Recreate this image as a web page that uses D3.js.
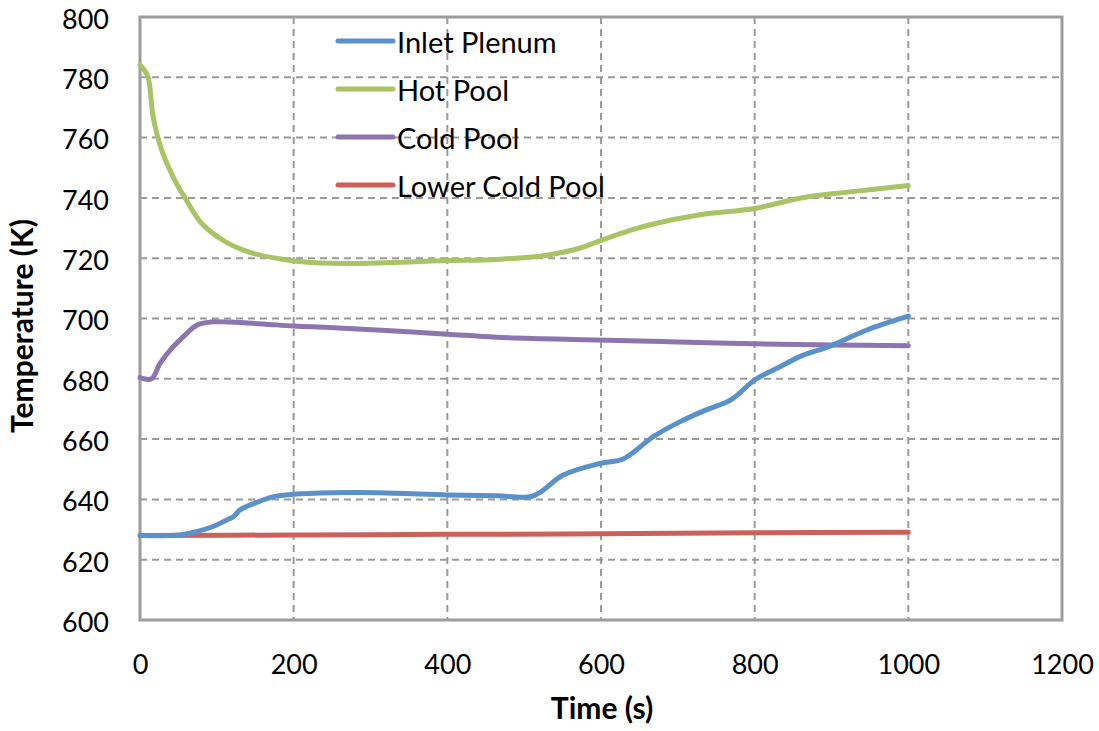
<!DOCTYPE html>
<html>
<head>
<meta charset="utf-8">
<script src="https://cdn.jsdelivr.net/npm/d3@7"></script>
<style>
  html, body { margin: 0; padding: 0; background: #fff; }
  svg { display: block; font-family: Lato, "Open Sans", sans-serif; }
  .tick-label { font-size: 27px; fill: #000; }
  .axis-title { font-size: 30px; font-weight: bold; fill: #000; }
  .legend-label { font-size: 29px; fill: #000; }
  .grid line { stroke: #9a9a9a; stroke-width: 2; stroke-dasharray: 7 5; }
</style>
</head>
<body>
<div id="chart"></div>
<script>
const xTicks = [0, 200, 400, 600, 800, 1000, 1200];
const yTicks = [600, 620, 640, 660, 680, 700, 720, 740, 760, 780, 800];

const seriesNames = ['Inlet Plenum', 'Hot Pool', 'Cold Pool', 'Lower Cold Pool'];

const inletTime = [0, 52, 74, 95, 113, 122, 130, 152, 174, 200, 250, 311, 400, 464, 512, 551, 600, 629, 668, 703, 737, 770, 800, 833, 861, 898, 946, 1000];
const inletTemp = [628, 628.2, 629.3, 631, 633.2, 634.3, 636.5, 639, 640.9, 641.7, 642.2, 642.2, 641.5, 641.2, 641.2, 648.1, 652, 653.4, 660.8, 665.8, 669.7, 673.2, 679.6, 684, 687.6, 690.8, 696.2, 700.8];

const hotTime = [0, 10, 17, 28, 45, 59, 80, 111, 145, 201, 250, 320, 400, 464, 529, 572, 601, 638, 664, 729, 800, 859, 924, 1000];
const hotTemp = [784.1, 780.4, 767, 756, 746, 739.8, 731.6, 725.5, 721.8, 719.1, 718.3, 718.5, 719.2, 719.6, 721, 723.3, 726, 729.2, 731.1, 734.4, 736.5, 739.9, 742, 744.1];

const coldTime = [0, 15, 26, 43, 61, 74, 95, 117, 160, 200, 247, 320, 400, 464, 594, 700, 800, 900, 1000];
const coldTemp = [680.4, 680, 685.1, 690.6, 695.1, 697.8, 698.9, 698.8, 698.2, 697.5, 697, 696, 694.8, 693.8, 692.9, 692.2, 691.6, 691.2, 691];

const lowerTime = [0, 200, 400, 600, 800, 1000];
const lowerTemp = [628, 628.2, 628.4, 628.6, 628.9, 629.1];

const seriesColors = ['#5b91cb', '#a8c465', '#8d75b0', '#cc615a'];

document.addEventListener('DOMContentLoaded', () => {
  const width = 1099;
  const height = 731;
  const plot = { left: 140, top: 17, right: 1062, bottom: 620 };

  const series = [
    { name: seriesNames[0], time: inletTime, temp: inletTemp, color: seriesColors[0] },
    { name: seriesNames[1], time: hotTime, temp: hotTemp, color: seriesColors[1] },
    { name: seriesNames[2], time: coldTime, temp: coldTemp, color: seriesColors[2] },
    { name: seriesNames[3], time: lowerTime, temp: lowerTemp, color: seriesColors[3] },
  ];

  const svg = d3.select('#chart')
    .append('svg')
    .attr('width', width)
    .attr('height', height);

  const x = d3.scaleLinear().domain([0, 1200]).range([plot.left, plot.right]);
  const y = d3.scaleLinear().domain([600, 800]).range([plot.bottom, plot.top]);

  // dashed grid, skipping the ones that sit on the frame
  const grid = svg.append('g').attr('class', 'grid');
  grid.selectAll('.gx')
    .data(xTicks.filter((t) => t > 0 && t < 1200))
    .enter()
    .append('line')
    .attr('x1', (t) => x(t))
    .attr('x2', (t) => x(t))
    .attr('y1', plot.top)
    .attr('y2', plot.bottom);
  grid.selectAll('.gy')
    .data(yTicks.filter((t) => t > 600 && t < 800))
    .enter()
    .append('line')
    .attr('x1', plot.left)
    .attr('x2', plot.right)
    .attr('y1', (t) => y(t))
    .attr('y2', (t) => y(t));

  svg.append('rect')
    .attr('x', plot.left)
    .attr('y', plot.top)
    .attr('width', plot.right - plot.left)
    .attr('height', plot.bottom - plot.top)
    .attr('fill', 'none')
    .attr('stroke', '#9c9c9c')
    .attr('stroke-width', 3);

  // axes without tick marks, labels only
  const yAxis = svg.append('g')
    .attr('transform', `translate(${plot.left - 31},0)`)
    .call(d3.axisLeft(y).tickValues(yTicks).tickFormat(d3.format('d')).tickSize(0).tickPadding(0));
  yAxis.select('.domain').remove();
  yAxis.selectAll('text')
    .attr('class', 'tick-label')
    .attr('dy', '0.42em');

  const xAxis = svg.append('g')
    .attr('transform', `translate(0,${plot.bottom})`)
    .call(d3.axisBottom(x).tickValues(xTicks).tickFormat(d3.format('d')).tickSize(0).tickPadding(0));
  xAxis.select('.domain').remove();
  xAxis.selectAll('text')
    .attr('class', 'tick-label')
    .attr('y', 54)
    .attr('dy', 0);
  svg.selectAll('.tick text').attr('font-size', null).attr('font-family', null).attr('fill', null);
  yAxis.attr('font-size', null).attr('font-family', null);
  xAxis.attr('font-size', null).attr('font-family', null);

  svg.append('text')
    .attr('class', 'axis-title')
    .attr('text-anchor', 'middle')
    .attr('transform', 'translate(33,326) rotate(-90)')
    .text('Temperature (K)');

  svg.append('text')
    .attr('class', 'axis-title')
    .attr('text-anchor', 'middle')
    .attr('x', 602)
    .attr('y', 719)
    .text('Time (s)');

  const line = d3.line()
    .x((d) => x(d[0]))
    .y((d) => y(d[1]))
    .curve(d3.curveCatmullRom.alpha(0.5));

  svg.selectAll('.series')
    .data(series.slice().reverse())
    .enter()
    .append('path')
    .attr('class', 'series')
    .attr('fill', 'none')
    .attr('stroke', (s) => s.color)
    .attr('stroke-width', 5)
    .attr('stroke-linejoin', 'round')
    .attr('stroke-linecap', 'round')
    .attr('d', (s) => line(s.time.map((t, i) => [t, s.temp[i]])));

  const legend = svg.append('g').attr('transform', 'translate(338,41)');
  const rows = legend.selectAll('g')
    .data(series)
    .enter()
    .append('g')
    .attr('transform', (s, i) => `translate(0,${i * 48})`);
  rows.append('line')
    .attr('x1', 0)
    .attr('x2', 55)
    .attr('stroke', (s) => s.color)
    .attr('stroke-width', 5)
    .attr('stroke-linecap', 'round');
  rows.append('text')
    .attr('class', 'legend-label')
    .attr('x', 59)
    .attr('y', 12)
    .text((s) => s.name);
});
</script>
</body>
</html>
